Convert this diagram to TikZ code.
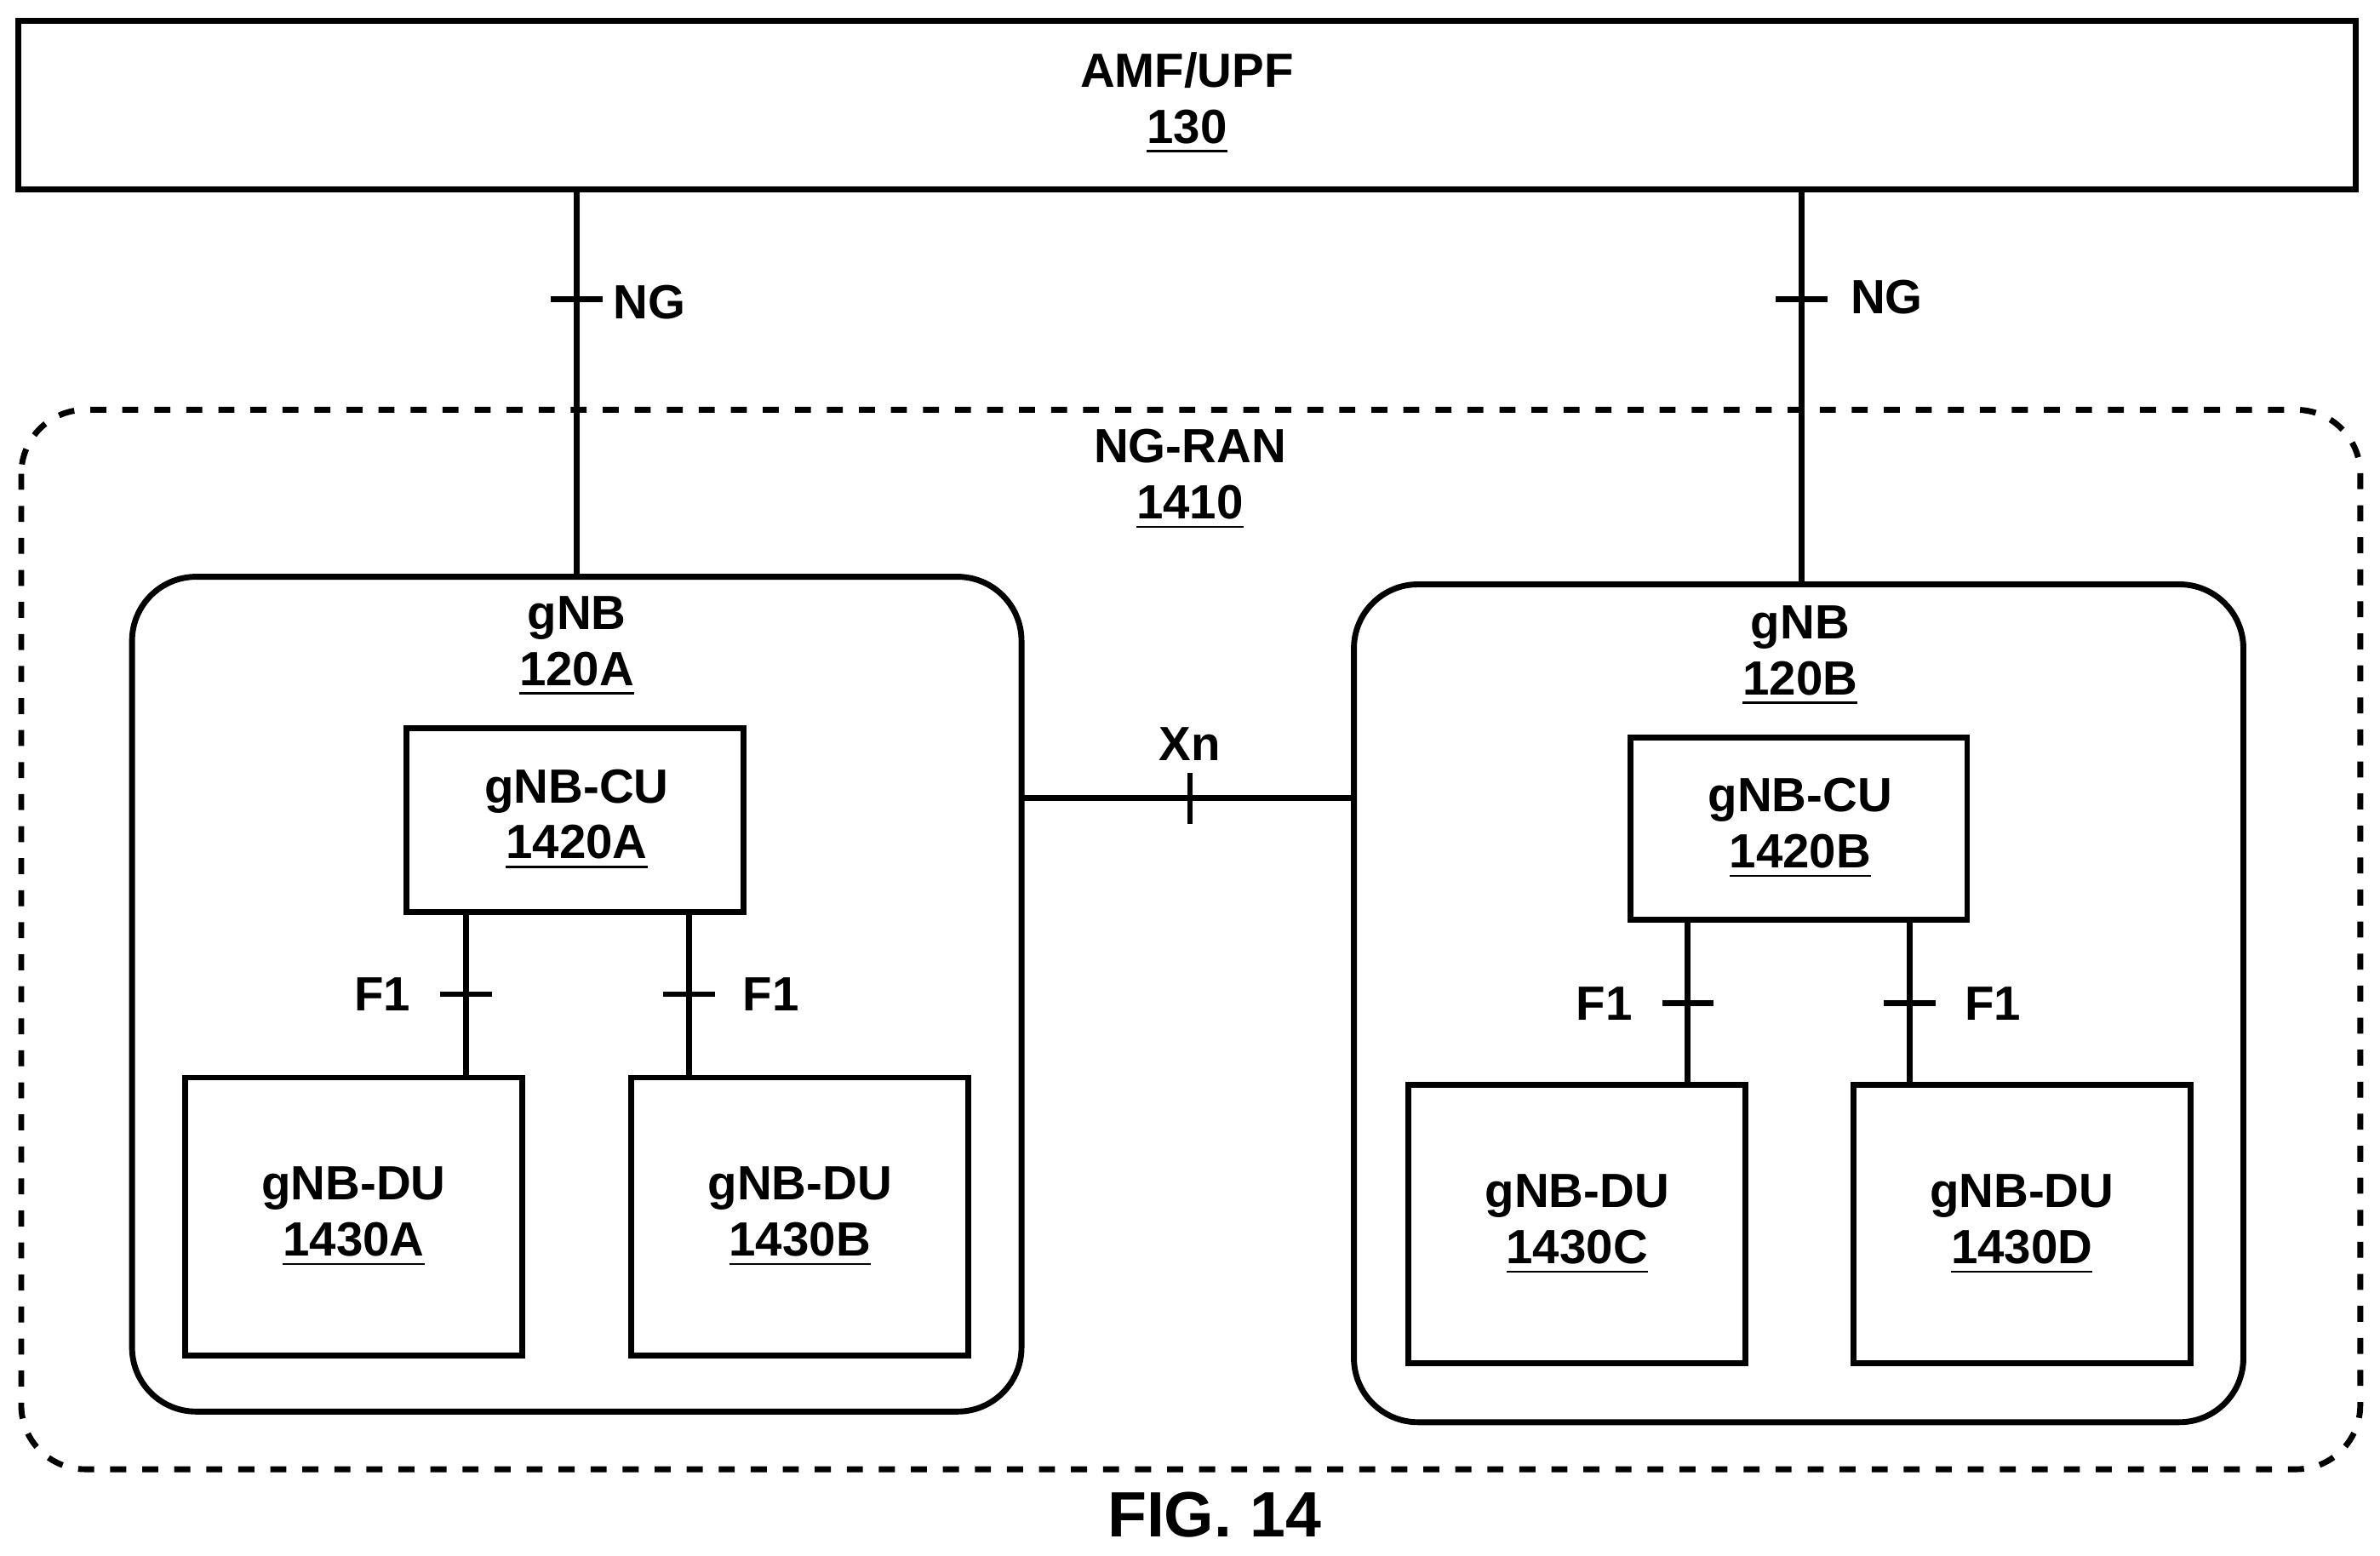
\documentclass[tikz,border=0pt]{standalone}
\usepackage{fontspec}
\setmainfont{Liberation Sans}
\begin{document}
\begin{tikzpicture}[x=0.01cm,y=-0.01cm,
  every node/.style={font=\bfseries\fontsize{9}{10.5}\selectfont, align=center},
  box/.style={draw, line width=1.1pt, inner sep=0pt},
  link/.style={line width=1.1pt},
  tick/.style={line width=1.1pt}]
  \useasboundingbox (0,0) rectangle (1568,1025);
  % core
  \draw[box] (12,14) rectangle (1552,125);
  \node (amf) at (782,68) {AMF/UPF\\\underline{130}};
  % ran
  \draw[line width=1.1pt, dashed, rounded corners=12] (14,270) rectangle (1555,968);
  \node (ran) at (784,316) {NG-RAN\\\underline{1410}};
  % gNBs
  \draw[box, rounded corners=12] (87,380) rectangle (673,930);
  \node (gnbA) at (380,426) {gNB\\\underline{120A}};
  \draw[box, rounded corners=12] (892,385) rectangle (1478,937);
  \node (gnbB) at (1186,432) {gNB\\\underline{120B}};
  % CUs
  \draw[box] (268,480) rectangle (490,601);
  \node (cuA) at (380,540) {gNB-CU\\\underline{1420A}};
  \draw[box] (1074,486) rectangle (1296,606);
  \node (cuB) at (1186,546) {gNB-CU\\\underline{1420B}};
  % DUs
  \foreach \nm/\xa/\ya/\lbl in {duA/122/710/1430A, duB/416/710/1430B, duC/928/715/1430C, duD/1221/715/1430D}{
    \draw[box] (\xa,\ya) rectangle ++(222,183);
    \node (\nm) at (\xa+111,\ya+92) {gNB-DU\\\underline{\lbl}};
  }
  % NG
  \draw[link] (380,125) -- (380,380);
  \draw[tick] (363,197) -- (397,197);
  \node at (428,199) {NG};
  \draw[link] (1187,125) -- (1187,385);
  \draw[tick] (1170,197) -- (1204,197);
  \node at (1243,196) {NG};
  % Xn
  \draw[link] (673,526) -- (892,526);
  \draw[tick] (784,509) -- (784,543);
  \node at (784,490) {Xn};
  % F1
  \foreach \x/\ya/\yb/\yt/\lx in {307/601/710/655/252, 454/601/710/655/508, 1112/606/715/661/1057, 1258/606/715/661/1313}{
    \draw[link] (\x,\ya) -- (\x,\yb);
    \draw[tick] (\x-17,\yt) -- (\x+17,\yt);
    \node at (\lx,\yt) {F1};
  }
  \node (fig) at (800,998) {\fontsize{12}{14}\selectfont FIG. 14};
\end{tikzpicture}
\end{document}
